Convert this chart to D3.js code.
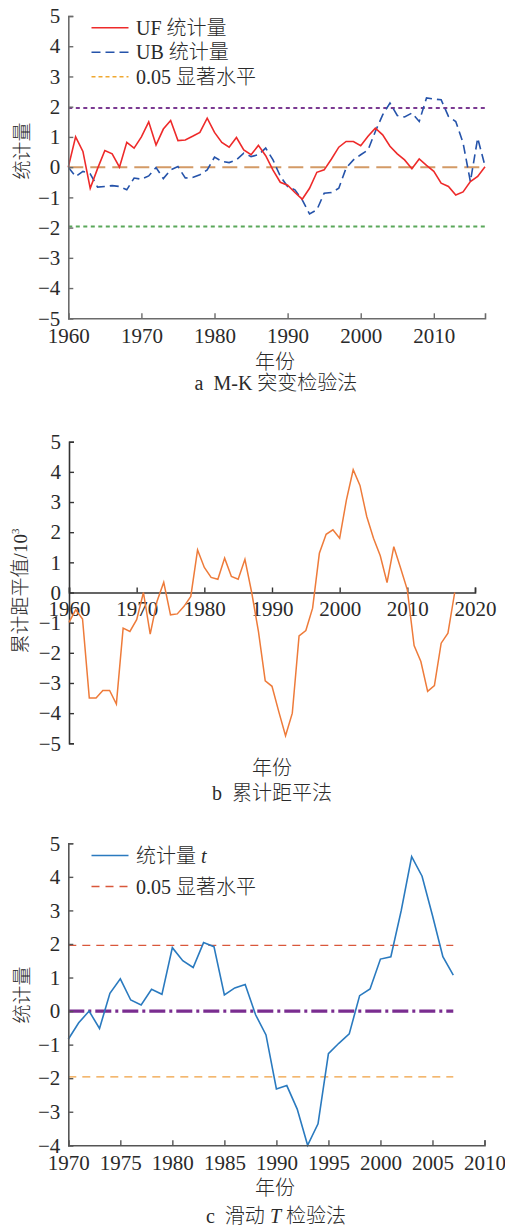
<!DOCTYPE html>
<html><head><meta charset="utf-8">
<script src="https://cdn.jsdelivr.net/npm/d3@7"></script>
<style>
html,body{margin:0;padding:0;background:#fff;}
svg text{font-family:"Liberation Serif","Noto Sans CJK SC",serif;fill:#2a2a2a;font-weight:300;}
</style></head>
<body>
<svg id="c" width="505" height="1228"></svg>
<script>
// ---------- Panel a: M-K ----------
const yearsA = d3.range(1960, 2018);
const ufValues = [0,1.0,0.52,-0.7,-0.05,0.55,0.44,0.0,0.82,0.63,
  1.0,1.5,0.73,1.26,1.54,0.88,0.9,1.02,1.15,1.62,
  1.15,0.82,0.66,0.98,0.57,0.41,0.72,0.38,-0.1,-0.5,
  -0.6,-0.84,-1.06,-0.7,-0.17,-0.09,0.27,0.66,0.85,0.85,
  0.71,1.02,1.29,1.07,0.69,0.44,0.24,-0.05,0.27,0.06,
  -0.14,-0.53,-0.64,-0.92,-0.82,-0.48,-0.31,0.01];
const ubValues = [0,-0.31,-0.14,-0.22,-0.66,-0.64,-0.61,-0.64,-0.75,-0.36,
  -0.4,-0.29,-0.01,-0.38,-0.09,0.02,-0.36,-0.34,-0.25,-0.09,
  0.33,0.19,0.15,0.24,0.46,0.35,0.41,0.63,0.24,-0.3,
  -0.64,-0.75,-1.08,-1.55,-1.41,-0.86,-0.84,-0.7,-0.03,0.24,
  0.41,0.57,1.18,1.73,2.12,1.71,1.66,1.79,1.51,2.29,
  2.25,2.23,1.68,1.51,0.8,-0.48,0.96,0.04];
const ticksA_x = [1960,1970,1980,1990,2000,2010];
const ticksA_y = [-5,-4,-3,-2,-1,0,1,2,3,4,5];
const legendA = ["UF 统计量","UB 统计量","0.05 显著水平"];
const sigLevel = 1.96;

// ---------- Panel b: cumulative anomaly ----------
const yearsB = d3.range(1960, 2018);
const cumValues = [-0.99,-0.57,-0.88,-3.5,-3.5,-3.25,-3.25,-3.7,-1.18,-1.29,
  -0.9,0.0,-1.38,-0.3,0.34,-0.74,-0.71,-0.46,-0.13,1.41,
  0.83,0.5,0.44,1.14,0.53,0.44,1.1,0.0,-1.3,-2.93,
  -3.11,-3.95,-4.75,-4.0,-1.44,-1.26,-0.52,1.3,1.93,2.08,
  1.8,3.07,4.07,3.55,2.52,1.8,1.22,0.33,1.52,0.81,
  0.09,-1.76,-2.29,-3.28,-3.09,-1.68,-1.35,0.0];
const ticksB_x = [1960,1970,1980,1990,2000,2010,2020];
const ticksB_y = [-5,-4,-3,-2,-1,0,1,2,3,4,5];

// ---------- Panel c: moving t-test ----------
const yearsC = d3.range(1970, 2008);
const tValues = [-0.84,-0.35,0.0,-0.52,0.53,0.96,0.33,0.18,0.65,0.5,
  1.89,1.5,1.3,2.04,1.92,0.48,0.69,0.79,-0.11,-0.71,
  -2.32,-2.22,-2.92,-4.0,-3.36,-1.27,-0.96,-0.68,0.46,0.66,
  1.55,1.62,3.0,4.6,4.02,2.85,1.62,1.07];
const ticksC_x = [1970,1975,1980,1985,1990,1995,2000,2005,2010];
const ticksC_y = [-4,-3,-2,-1,0,1,2,3,4,5];
const legendC = ["统计量 ","0.05 显著水平"];

const svg = d3.select("#c");
const fmt = d => d < 0 ? "\u2212" + Math.abs(d) : String(d);
const FS = 21;

function styleAxis(g, color){
  g.selectAll("path.domain").attr("stroke", color).attr("stroke-width", 1.6);
  g.selectAll(".tick line").attr("stroke", color).attr("stroke-width", 1.4);
  g.selectAll(".tick text").attr("font-size", FS).attr("fill","#222")
    .style("font-family",'"Liberation Serif",serif').style("font-weight","400");
}

// ===== Panel a =====
{
  const x = d3.scaleLinear().domain([1960,2017]).range([68.3,485]);
  const y = d3.scaleLinear().domain([-5,5]).range([318.3,16]);
  const g = svg.append("g");
  const line = d3.line().x((d,i)=>x(yearsA[i])).y(d=>y(d));
  g.append("line").attr("x1",x(1960)).attr("x2",x(2017)).attr("y1",y(sigLevel)).attr("y2",y(sigLevel))
    .attr("stroke","#7b3a92").attr("stroke-width",2).attr("stroke-dasharray","4,3.5");
  g.append("line").attr("x1",x(1960)).attr("x2",x(2017)).attr("y1",y(-sigLevel)).attr("y2",y(-sigLevel))
    .attr("stroke","#5aa85a").attr("stroke-width",2).attr("stroke-dasharray","4,3.5");
  g.append("line").attr("x1",x(1960)).attr("x2",x(2017)).attr("y1",y(0)).attr("y2",y(0))
    .attr("stroke","#d39a66").attr("stroke-width",2).attr("stroke-dasharray","15,7");
  g.append("path").datum(ubValues).attr("d",line).attr("fill","none")
    .attr("stroke","#2553aa").attr("stroke-width",1.6).attr("stroke-dasharray","9,5");
  g.append("path").datum(ufValues).attr("d",line).attr("fill","none")
    .attr("stroke","#ee2a2a").attr("stroke-width",1.6);
  const ax = g.append("g").attr("transform",`translate(0,${y(-5)})`)
    .call(d3.axisBottom(x).tickValues(ticksA_x).tickFormat(d3.format("d")).tickSize(-5).tickPadding(10));
  styleAxis(ax,"#6b6b6b");
  const ay = g.append("g").attr("transform",`translate(${x(1960)},0)`)
    .call(d3.axisLeft(y).tickValues(ticksA_y).tickFormat(fmt).tickSize(-5).tickPadding(8));
  styleAxis(ay,"#6b6b6b");
  const leg = [
    {t:legendA[0], c:"#ee2a2a", d:null, w:1.6},
    {t:legendA[1], c:"#2553aa", d:"9,5", w:1.6},
    {t:legendA[2], c:"#f0a830", d:"4,3", w:1.6}];
  leg.forEach((L,i)=>{
    const yy = 27.7 + i*24.5;
    g.append("line").attr("x1",91.5).attr("x2",128.5).attr("y1",yy).attr("y2",yy)
      .attr("stroke",L.c).attr("stroke-width",L.w).attr("stroke-dasharray",L.d);
    g.append("text").attr("x",136).attr("y",yy).attr("dy","0.35em").attr("font-size",20).text(L.t);
  });
  g.append("text").attr("transform","translate(22,151) rotate(-90)").attr("text-anchor","middle")
    .attr("dy","0.35em").attr("font-size",19).attr("fill","#555").text("统计量");
  g.append("text").attr("x",275).attr("y",362).attr("dy","0.35em").attr("text-anchor","middle")
    .attr("font-size",20).text("年份");
  g.append("text").attr("x",276).attr("y",383).attr("dy","0.35em").attr("text-anchor","middle")
    .attr("font-size",20).attr("xml:space","preserve").text("a  M-K 突变检验法");
}

// ===== Panel b =====
{
  const x = d3.scaleLinear().domain([1960,2020]).range([69,475]);
  const y = d3.scaleLinear().domain([-5,5]).range([743.3,441.7]);
  const g = svg.append("g");
  const line = d3.line().x((d,i)=>x(yearsB[i])).y(d=>y(d));
  const ax = g.append("g").attr("transform",`translate(0,${y(0)})`)
    .call(d3.axisBottom(x).tickValues(ticksB_x).tickFormat(d3.format("d")).tickSize(-5).tickPadding(9));
  styleAxis(ax,"#333");
  const ay = g.append("g").attr("transform",`translate(${x(1960)},0)`)
    .call(d3.axisLeft(y).tickValues(ticksB_y).tickFormat(fmt).tickSize(-5).tickPadding(8));
  styleAxis(ay,"#333");
  g.append("path").datum(cumValues).attr("d",line).attr("fill","none")
    .attr("stroke","#ee7b3a").attr("stroke-width",1.5);
  const t = g.append("text").attr("transform","translate(20,591) rotate(-90)").attr("text-anchor","middle")
    .attr("dy","0.35em").attr("font-size",19).attr("fill","#555");
  t.append("tspan").text("累计距平值/10");
  t.append("tspan").attr("font-size",11).attr("dy","-0.7em").text("3");
  g.append("text").attr("x",272).attr("y",768).attr("dy","0.35em").attr("text-anchor","middle")
    .attr("font-size",20).text("年份");
  g.append("text").attr("x",272).attr("y",793).attr("dy","0.35em").attr("text-anchor","middle")
    .attr("font-size",20).attr("xml:space","preserve").text("b  累计距平法");
}

// ===== Panel c =====
{
  const x = d3.scaleLinear().domain([1970,2010]).range([68.3,484.5]);
  const y = d3.scaleLinear().domain([-4,5]).range([1145.3,843.3]);
  const g = svg.append("g");
  const line = d3.line().x((d,i)=>x(yearsC[i])).y(d=>y(d));
  const x0 = x(1970), x1 = x(2007);
  g.append("line").attr("x1",x0).attr("x2",x1).attr("y1",y(sigLevel)).attr("y2",y(sigLevel))
    .attr("stroke","#d9573b").attr("stroke-width",1.3).attr("stroke-dasharray","8,6");
  g.append("line").attr("x1",x0).attr("x2",x1).attr("y1",y(-sigLevel)).attr("y2",y(-sigLevel))
    .attr("stroke","#f0a040").attr("stroke-width",1.3).attr("stroke-dasharray","8,6");
  g.append("line").attr("x1",x0).attr("x2",x1).attr("y1",y(0)).attr("y2",y(0))
    .attr("stroke","#7a2d90").attr("stroke-width",3.2).attr("stroke-dasharray","16,4,3,4");
  g.append("path").datum(tValues).attr("d",line).attr("fill","none")
    .attr("stroke","#2a7abf").attr("stroke-width",1.6);
  const ax = g.append("g").attr("transform",`translate(0,${y(-4)})`)
    .call(d3.axisBottom(x).tickValues(ticksC_x).tickFormat(d3.format("d")).tickSize(-5).tickPadding(9.5));
  styleAxis(ax,"#555");
  const ay = g.append("g").attr("transform",`translate(${x(1970)},0)`)
    .call(d3.axisLeft(y).tickValues(ticksC_y).tickFormat(fmt).tickSize(-5).tickPadding(8));
  styleAxis(ay,"#555");
  g.append("line").attr("x1",91.5).attr("x2",128.5).attr("y1",855.5).attr("y2",855.5)
    .attr("stroke","#2a7abf").attr("stroke-width",1.6);
  const t1 = g.append("text").attr("x",136).attr("y",855.5).attr("dy","0.35em").attr("font-size",20)
    .attr("xml:space","preserve");
  t1.append("tspan").text(legendC[0]);
  t1.append("tspan").attr("font-style","italic").text("t");
  g.append("line").attr("x1",91.5).attr("x2",128.5).attr("y1",886.5).attr("y2",886.5)
    .attr("stroke","#d9573b").attr("stroke-width",1.3).attr("stroke-dasharray","8,6");
  g.append("text").attr("x",136).attr("y",886.5).attr("dy","0.35em").attr("font-size",20).text(legendC[1]);
  g.append("text").attr("transform","translate(22,995) rotate(-90)").attr("text-anchor","middle")
    .attr("dy","0.35em").attr("font-size",19).attr("fill","#555").text("统计量");
  g.append("text").attr("x",275).attr("y",1188).attr("dy","0.35em").attr("text-anchor","middle")
    .attr("font-size",20).text("年份");
  const cap = g.append("text").attr("x",276).attr("y",1216).attr("dy","0.35em").attr("text-anchor","middle")
    .attr("font-size",20).attr("xml:space","preserve");
  cap.append("tspan").text("c  滑动 ");
  cap.append("tspan").attr("font-style","italic").text("T");
  cap.append("tspan").text(" 检验法");
}
</script>
</body></html>
